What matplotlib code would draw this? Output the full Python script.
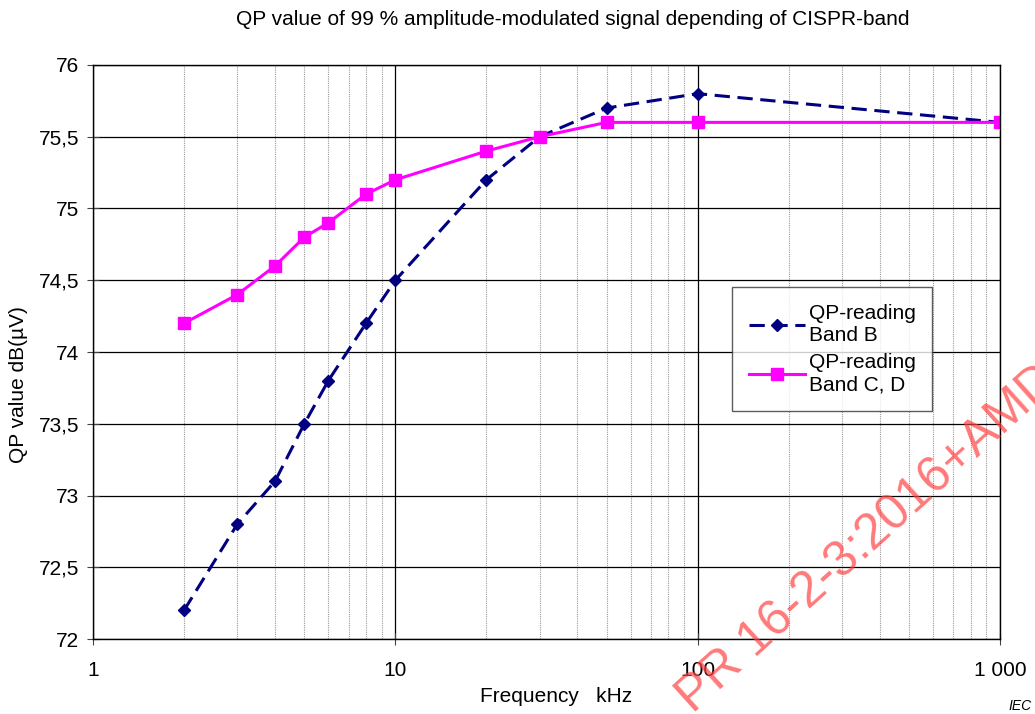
import matplotlib
matplotlib.use("Agg")
import matplotlib.pyplot as plt
from matplotlib.ticker import FixedLocator, FuncFormatter, LogLocator, NullFormatter

plt.rcParams['font.family'] = ['Liberation Sans', 'DejaVu Sans']

# données
freq_khz = [2, 3, 4, 5, 6, 8, 10, 20, 30, 50, 100, 1000]
qp_band_b = [72.2, 72.8, 73.1, 73.5, 73.8, 74.2, 74.5, 75.2, 75.5, 75.7, 75.8, 75.6]
qp_band_cd = [74.2, 74.4, 74.6, 74.8, 74.9, 75.1, 75.2, 75.4, 75.5, 75.6, 75.6, 75.6]
y_ticks = [72, 72.5, 73, 73.5, 74, 74.5, 75, 75.5, 76]
x_ticks = [1, 10, 100, 1000]
x_tick_labels = ['1', '10', '100', '1 000']

fig = plt.figure(figsize=(10.35, 7.14), dpi=100)
ax = fig.add_axes([0.0899, 0.105, 0.8763, 0.804])

ax.plot(freq_khz, qp_band_b, color='#000080', ls=(0, (5, 2.5)), lw=2.2,
        marker='D', ms=6, label='QP-reading\nBand B')
ax.plot(freq_khz, qp_band_cd, color='#ff00ff', ls='-', lw=2.2,
        marker='s', ms=8, label='QP-reading\nBand C, D')

ax.set_xscale('log')
ax.set_xlim(1, 1000)
ax.set_ylim(72, 76)
ax.xaxis.set_major_locator(FixedLocator(x_ticks))
ax.xaxis.set_major_formatter(FuncFormatter(lambda v, p: x_tick_labels[x_ticks.index(round(v))] if round(v) in x_ticks else ''))
ax.xaxis.set_minor_locator(LogLocator(base=10, subs=range(2, 10)))
ax.xaxis.set_minor_formatter(NullFormatter())
ax.set_yticks(y_ticks)
ax.set_yticklabels([('%g' % v).replace('.', ',') for v in y_ticks])

ax.grid(which='major', color='black', lw=0.9)
ax.grid(which='minor', axis='x', color='#999999', lw=0.8, ls=(0, (1, 1)))
ax.tick_params(which='major', direction='inout', length=8, labelsize=15, color='#444444')
ax.tick_params(axis='y', pad=6)
ax.tick_params(axis='x', pad=12)
ax.tick_params(which='minor', length=0)
for s in ax.spines.values():
    s.set_color('black')
    s.set_linewidth(1.0)

ax.set_xlabel('Frequency   kHz', fontsize=15, va='top')
ax.xaxis.set_label_coords(0.5105, -0.083)
ax.set_ylabel('QP value dB(µV)', fontsize=15, va='bottom')
ax.yaxis.set_label_coords(-0.072, 0.444)
fig.text(0.553, 0.972, 'QP value of 99 % amplitude-modulated signal depending of CISPR-band',
         fontsize=15, ha='center', va='center')

leg = ax.legend(loc='upper left', bbox_to_anchor=(0.705, 0.613), fontsize=15,
                frameon=True, fancybox=False, edgecolor='#333333', borderpad=0.8,
                labelspacing=0.4, handlelength=2.7, handletextpad=0.15, borderaxespad=0)
leg.get_frame().set_linewidth(1.0)

fig.text(0.997, 0.002, 'IEC', fontsize=10, style='italic', ha='right', va='bottom')
fig.text(0.676, -0.01, 'PR 16-2-3:2016+AMD', fontsize=36, color='#ff4040', alpha=0.7,
         rotation=42, ha='left', va='bottom', rotation_mode='anchor')

fig.savefig('out.png', dpi=100)
